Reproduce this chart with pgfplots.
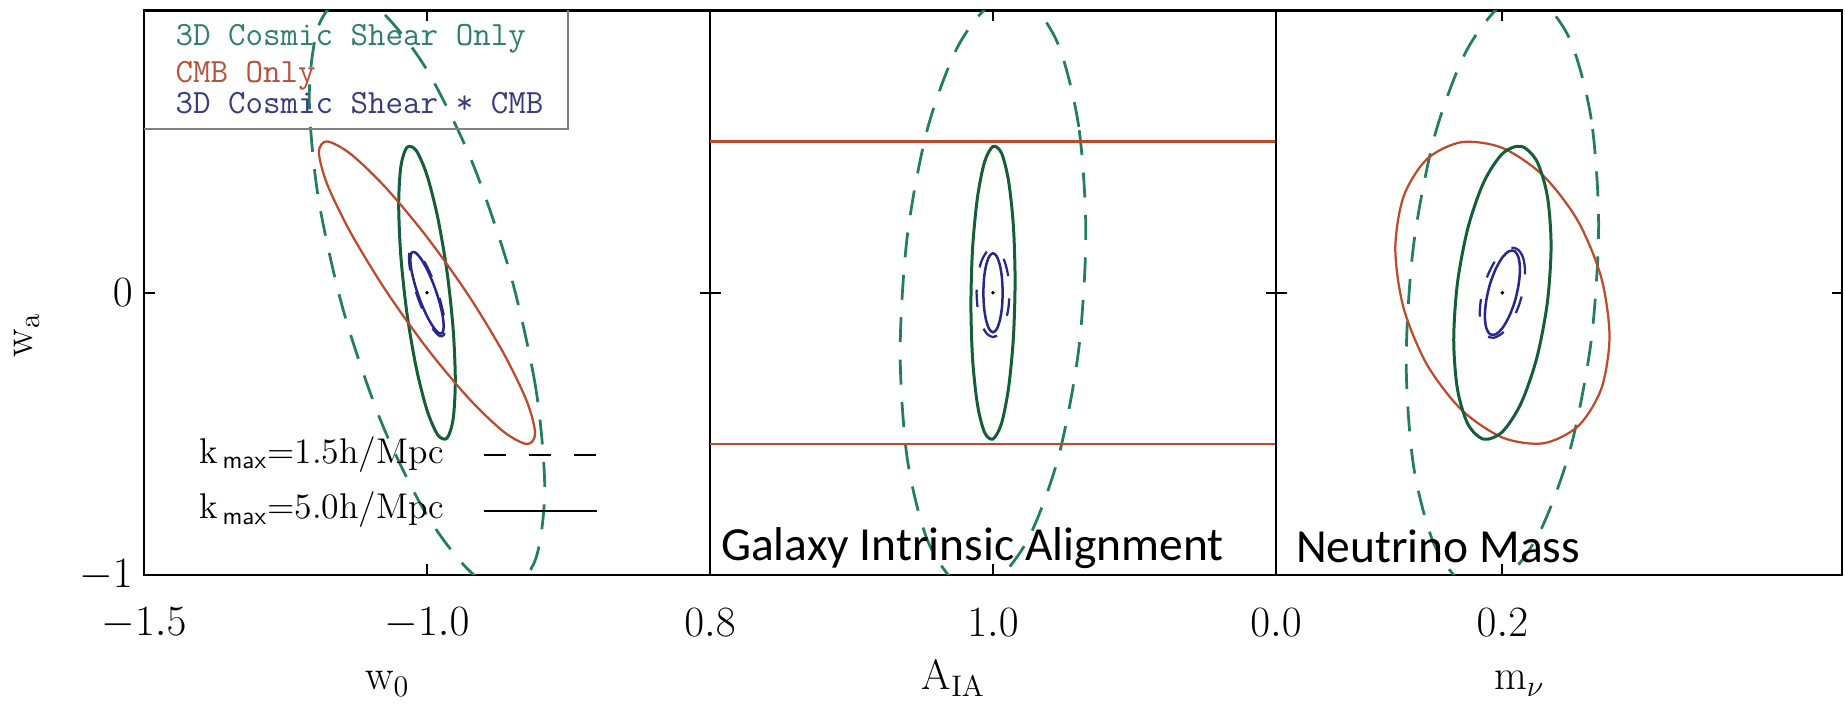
\documentclass[border=0pt]{standalone}
\usepackage{fontspec}
\usepackage{pgfplots}
\pgfplotsset{compat=1.18}
\newfontfamily\calibri{Carlito}
\definecolor{gsolid}{HTML}{145F37}
\definecolor{gdash}{HTML}{237D5F}
\definecolor{cmbred}{HTML}{BE4A2D}
\definecolor{cbblue}{HTML}{28288C}
\definecolor{legg}{HTML}{2E8068}
\definecolor{legr}{HTML}{B5503A}
\definecolor{legb}{HTML}{3A3A80}
\pgfplotsset{
  panel/.style={
    scale only axis, width=226.4pt, height=225.8pt,
    anchor=south west,
    clip mode=individual,
    ymin=-1, ymax=1,
    ytick={-1,0},
    tick align=inside,
    xtick pos=both, ytick pos=both,
    major tick length=4.2pt,
    every tick/.style={black, line width=0.8pt},
    axis line style={black, line width=1pt},
    tick label style={font=\fontsize{17}{20}\selectfont},
    xticklabel style={anchor=center, yshift=-19.2pt, /pgf/number format/.cd, fixed, fixed zerofill, precision=1},
    yticklabel style={anchor=east, xshift=-1pt},
    label style={font=\fontsize{17}{20}\selectfont},
    xlabel style={at={(rel axis cs:0.43,0)}, anchor=base, yshift=-46pt},
  },
  gs/.style={color=gsolid, line width=1.2pt, smooth cycle},
  gd/.style={color=gdash, line width=1.1pt, dash pattern=on 10pt off 7pt, smooth cycle},
  rd/.style={color=cmbred, line width=0.9pt, smooth cycle},
  bs/.style={color=cbblue, line width=1pt, smooth cycle},
  bd/.style={color=cbblue, line width=0.9pt, dash pattern=on 7pt off 9pt, smooth cycle},
  fid/.style={only marks, mark=*, mark size=0.5pt, black},
}
\begin{document}
\begin{tikzpicture}
\useasboundingbox (0,0) rectangle (738pt,282.4pt);
% ---------------- panel 1 ----------------
\begin{axis}[panel, at={(57.6pt,52.4pt)},
  xmin=-1.5, xmax=-0.5, xtick={-1.5,-1.0},
  xlabel={$\mathrm{w}_{0}$},
]
\addplot[gd] coordinates {(-0.792,-0.693) (-0.8078,-0.3384) (-0.8529,0.0677) (-0.9204,0.4636) (-1.0,0.7889) (-1.0796,0.994) (-1.1471,1.0478) (-1.1922,0.9422) (-1.208,0.693) (-1.1922,0.3384) (-1.1471,-0.0677) (-1.0796,-0.4636) (-1.0,-0.7889) (-0.9204,-0.994) (-0.8529,-1.0478) (-0.8078,-0.9422)};
\addplot[gs] coordinates {(-0.95,-0.312) (-0.9538,-0.129) (-0.9646,0.0735) (-0.9809,0.265) (-1.0,0.416) (-1.0191,0.504) (-1.0354,0.515) (-1.0462,0.447) (-1.05,0.312) (-1.0462,0.129) (-1.0354,-0.0735) (-1.0191,-0.265) (-1.0,-0.416) (-0.9809,-0.504) (-0.9646,-0.515) (-0.9538,-0.447)};
\addplot[rd] coordinates {(-0.809,-0.4985) (-0.8235,-0.3851) (-0.865,-0.2132) (-0.9269,-0.0087) (-1.0,0.197) (-1.0731,0.3728) (-1.135,0.4918) (-1.1765,0.536) (-1.191,0.4985) (-1.1765,0.3851) (-1.135,0.2132) (-1.0731,0.0087) (-1.0,-0.197) (-0.9269,-0.3728) (-0.865,-0.4918) (-0.8235,-0.536)};
\addplot[bd] coordinates {(-0.968,-0.124) (-0.9704,-0.079) (-0.9774,-0.0219) (-0.9878,0.0385) (-1.0,0.093) (-1.0122,0.1334) (-1.0226,0.1535) (-1.0296,0.1501) (-1.032,0.124) (-1.0296,0.079) (-1.0226,0.0219) (-1.0122,-0.0385) (-1.0,-0.093) (-0.9878,-0.1334) (-0.9774,-0.1535) (-0.9704,-0.1501)};
\addplot[bs] coordinates {(-0.9705,-0.1189) (-0.9727,-0.0781) (-0.9791,-0.0254) (-0.9887,0.0312) (-1.0,0.083) (-1.0113,0.1222) (-1.0209,0.1428) (-1.0273,0.1416) (-1.0295,0.1189) (-1.0273,0.0781) (-1.0209,0.0254) (-1.0113,-0.0312) (-1.0,-0.083) (-0.9887,-0.1222) (-0.9791,-0.1428) (-0.9727,-0.1416)};
\addplot[fid] coordinates {(-1.0,0)};
% y label
\node[rotate=90, anchor=base, inner sep=0, font=\fontsize{17}{20}\selectfont] at ([xshift=-44.4pt]rel axis cs:0,0.425) {$\mathrm{w}_{\mathrm{a}}$};
% legend box
\draw[color=gray, line width=0.8pt] (rel axis cs:0,0.7906) -- (rel axis cs:0.749,0.7906) -- (rel axis cs:0.749,1);
\node[anchor=base west, inner sep=0, text=legg, font=\ttfamily\fontsize{13.6}{14}\selectfont] at (rel axis cs:0.055,0.9384) {3D Cosmic Shear Only};
\node[anchor=base west, inner sep=0, text=legr, font=\ttfamily\fontsize{13.6}{14}\selectfont] at (rel axis cs:0.055,0.8733) {CMB Only};
\node[anchor=base west, inner sep=0, text=legb, font=\ttfamily\fontsize{13.6}{14}\selectfont] at (rel axis cs:0.055,0.8172) {3D Cosmic Shear * CMB};
% kmax key
\node[anchor=base west, inner sep=0, font=\fontsize{14.3}{16}\selectfont] at (rel axis cs:0.098,0.1975) {k$_{\,\mathsf{max}}$=1.5h/Mpc};
\node[anchor=base west, inner sep=0, font=\fontsize{14.3}{16}\selectfont] at (rel axis cs:0.098,0.0992) {k$_{\,\mathsf{max}}$=5.0h/Mpc};
\draw[black, line width=0.8pt, dash pattern=on 9pt off 9pt] (rel axis cs:0.6,0.2126) -- (rel axis cs:0.7995,0.2126);
\draw[black, line width=0.8pt] (rel axis cs:0.6,0.1134) -- (rel axis cs:0.7995,0.1134);
\end{axis}
% ---------------- panel 2 ----------------
\begin{axis}[panel, at={(284pt,52.4pt)},
  xmin=0.8, xmax=1.2, xtick={0.8,1.0}, yticklabels={},
  xlabel={$\mathrm{A}_{\mathrm{IA}}$},
]
\addplot[gd] coordinates {(1.0656,0.21) (1.0606,0.5878) (1.0464,0.8759) (1.0251,1.0308) (1.0,1.0288) (0.9749,0.8701) (0.9536,0.579) (0.9394,0.1997) (0.9344,-0.21) (0.9394,-0.5878) (0.9536,-0.8759) (0.9749,-1.0308) (1.0,-1.0288) (1.0251,-0.8701) (1.0464,-0.579) (1.0606,-0.1997)};
\addplot[color=cmbred, line width=0.9pt] coordinates {(0.8,0.536) (1.2,0.536)};
\addplot[color=cmbred, line width=0.9pt] coordinates {(0.8,-0.536) (1.2,-0.536)};
\addplot[gs] coordinates {(1.0156,0.0416) (1.0144,0.2368) (1.011,0.3959) (1.006,0.4948) (1.0,0.5183) (0.994,0.463) (0.989,0.3371) (0.9856,0.16) (0.9844,-0.0416) (0.9856,-0.2368) (0.989,-0.3959) (0.994,-0.4948) (1.0,-0.5183) (1.006,-0.463) (1.011,-0.3371) (1.0144,-0.16)};
\addplot[bd] coordinates {(1.0116,0) (1.0107,0.0601) (1.0082,0.111) (1.0044,0.145) (1.0,0.157) (0.9956,0.145) (0.9918,0.111) (0.9893,0.0601) (0.9884,0) (0.9893,-0.0601) (0.9918,-0.111) (0.9956,-0.145) (1.0,-0.157) (1.0044,-0.145) (1.0082,-0.111) (1.0107,-0.0601)};
\addplot[bs] coordinates {(1.0068,0) (1.0063,0.0536) (1.0048,0.099) (1.0026,0.1293) (1.0,0.14) (0.9974,0.1293) (0.9952,0.099) (0.9937,0.0536) (0.9932,0) (0.9937,-0.0536) (0.9952,-0.099) (0.9974,-0.1293) (1.0,-0.14) (1.0026,-0.1293) (1.0048,-0.099) (1.0063,-0.0536)};
\addplot[fid] coordinates {(1.0,0)};
\node[anchor=base west, inner sep=0, font=\calibri\fontsize{19}{22}\selectfont] at (rel axis cs:0.019,0.0257) {Galaxy Intrinsic Alignment};
\end{axis}
% ---------------- panel 3 ----------------
\begin{axis}[panel, at={(510.4pt,52.4pt)},
  xmin=0, xmax=0.5, xtick={0,0.2}, yticklabels={},
  xlabel={$\mathrm{m}_{\nu}$},
]
\addplot[gd] coordinates {(0.285,0.2415) (0.2785,0.6141) (0.2601,0.8933) (0.2325,1.0365) (0.2,1.0219) (0.1675,0.8517) (0.1399,0.5519) (0.1215,0.1679) (0.115,-0.2415) (0.1215,-0.6141) (0.1399,-0.8933) (0.1675,-1.0365) (0.2,-1.0219) (0.2325,-0.8517) (0.2601,-0.5519) (0.2785,-0.1679)};
\addplot[rd] coordinates {(0.2946,-0.1554) (0.2874,0.0527) (0.2669,0.2528) (0.2362,0.4144) (0.2,0.513) (0.1638,0.5334) (0.1331,0.4726) (0.1126,0.3399) (0.1054,0.1554) (0.1126,-0.0527) (0.1331,-0.2528) (0.1638,-0.4144) (0.2,-0.513) (0.2362,-0.5334) (0.2669,-0.4726) (0.2874,-0.3399)};
\addplot[gs] coordinates {(0.243,0.1664) (0.2397,0.3423) (0.2304,0.466) (0.2165,0.5189) (0.2,0.4926) (0.1835,0.3915) (0.1696,0.2307) (0.1603,0.0348) (0.157,-0.1664) (0.1603,-0.3423) (0.1696,-0.466) (0.1835,-0.5189) (0.2,-0.4926) (0.2165,-0.3915) (0.2304,-0.2307) (0.2397,-0.0348)};
\addplot[bd] coordinates {(0.22,0.072) (0.2185,0.1212) (0.2141,0.1519) (0.2077,0.1596) (0.2,0.1429) (0.1923,0.1044) (0.1859,0.0501) (0.1815,-0.0118) (0.18,-0.072) (0.1815,-0.1212) (0.1859,-0.1519) (0.1923,-0.1596) (0.2,-0.1429) (0.2077,-0.1044) (0.2141,-0.0501) (0.2185,0.0118)};
\addplot[bs] coordinates {(0.2155,0.0825) (0.2143,0.1242) (0.211,0.1469) (0.2059,0.1473) (0.2,0.1253) (0.1941,0.0842) (0.189,0.0303) (0.1857,-0.0283) (0.1845,-0.0825) (0.1857,-0.1242) (0.189,-0.1469) (0.1941,-0.1473) (0.2,-0.1253) (0.2059,-0.0842) (0.211,-0.0303) (0.2143,0.0283)};
\addplot[fid] coordinates {(0.2,0)};
\node[anchor=base west, inner sep=0, font=\calibri\fontsize{19}{22}\selectfont] at (rel axis cs:0.0345,0.022) {Neutrino Mass};
\end{axis}
\end{tikzpicture}
\end{document}
